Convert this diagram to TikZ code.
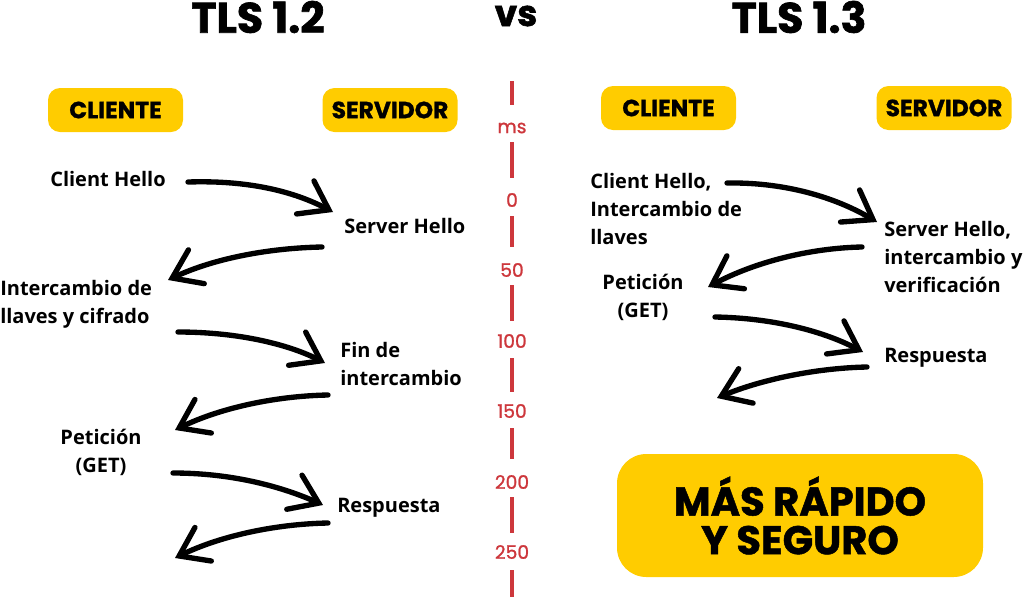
\documentclass[tikz,border=0pt]{standalone}
\usepackage{fontspec}
\setmainfont{Open Sans}
\newfontfamily\pop{Poppins}
\usetikzlibrary{arrows.meta}
\definecolor{ylw}{RGB}{255,204,0}
\definecolor{tred}{RGB}{205,55,60}
\tikzset{
  title/.style={font=\pop\bfseries\addfontfeature{FakeBold=1.5}\fontsize{32}{34}\selectfont, inner sep=0pt},
  hdr/.style={fill=ylw, rounded corners=9pt, minimum width=101.25pt, minimum height=33pt, inner sep=0pt, font=\pop\bfseries\addfontfeature{FakeBold=1.2}\fontsize{17.5}{19}\selectfont},
  msg/.style={font=\bfseries\fontsize{15}{21}\selectfont, inner sep=0pt, align=left},
  tick/.style={font=\pop\addfontfeature{FakeBold=1.2}\fontsize{14}{16}\selectfont, text=tred, inner sep=0pt},
  tline/.style={draw=tred, line width=3pt},
  flow/.style={line width=4pt, line cap=round, -{Straight Barb[length=20pt,width=28pt,line cap=round]}},
  big/.style={fill=ylw, rounded corners=22pt, minimum width=274.5pt, minimum height=92.25pt, inner sep=0pt, align=center, font=\pop\bfseries\addfontfeature{FakeBold=1.2}\fontsize{30}{29}\selectfont}
}
\begin{document}
\begin{tikzpicture}[x=0.75pt,y=-0.75pt]
\useasboundingbox (0,0) rectangle (1024,597);
% titles
\node[title] (t12) at (258,17) {TLS 1.2};
\node[title, font=\pop\bfseries\addfontfeature{FakeBold=1.5}\fontsize{27}{30}\selectfont] (vs) at (516,16) {vs};
\node[title] (t13) at (799,17) {TLS 1.3};
% headers
\node[hdr] (cli1) at (115.5,110) {CLIENTE};
\node[hdr] (srv1) at (390,110) {SERVIDOR};
\node[hdr] (cli2) at (668.5,108) {CLIENTE};
\node[hdr] (srv2) at (944,108) {SERVIDOR};
% timeline
\draw[tline] (512,81) -- (512,105);
\draw[tline] (512,142) -- (512,178);
\draw[tline] (512,216) -- (512,247);
\draw[tline] (512,285) -- (512,321);
\draw[tline] (512,358) -- (512,392);
\draw[tline] (512,428) -- (512,459);
\draw[tline] (512,497) -- (512,533);
\draw[tline] (512,570) -- (512,597);
\node[tick] (ms) at (512,128) {ms};
\node[tick] (m0) at (512,200) {0};
\node[tick] (m50) at (512,270) {50};
\node[tick] (m100) at (512,341) {100};
\node[tick] (m150) at (512,411) {150};
\node[tick] (m200) at (512,482) {200};
\node[tick] (m250) at (512,552) {250};
% TLS 1.2 messages
\node[msg, anchor=west] (ch1) at (50,179) {Client Hello};
\node[msg, anchor=west] (sh1) at (344,226) {Server Hello};
\node[msg, anchor=west] (ic1) at (0,304) {Intercambio de\\llaves y cifrado};
\node[msg, anchor=west] (fi1) at (340,364) {Fin de\\intercambio};
\node[msg, align=center] (pe1) at (101,452) {Petición\\(GET)};
\node[msg, anchor=west] (re1) at (337,508) {Respuesta};
% TLS 1.3 messages
\node[msg, anchor=west] (ch2) at (590,209) {Client Hello,\\Intercambio de\\llaves};
\node[msg, anchor=west] (sh2) at (884,257) {Server Hello,\\intercambio y\\verificación};
\node[msg, align=center] (pe2) at (643,297) {Petición\\(GET)};
\node[msg, anchor=west] (re2) at (884,358) {Respuesta};
% arrow end points
\coordinate (l1s) at (188,182); \coordinate (l1e) at (333,212);
\coordinate (l2s) at (322,247); \coordinate (l2e) at (168,280);
\coordinate (l3s) at (178,332); \coordinate (l3e) at (325,363);
\coordinate (l4s) at (328,395); \coordinate (l4e) at (175,430);
\coordinate (l5s) at (173,473); \coordinate (l5e) at (323,505);
\coordinate (l6s) at (328,523); \coordinate (l6e) at (175,558);
\coordinate (r1s) at (727,183); \coordinate (r1e) at (877,222);
\coordinate (r2s) at (862,247); \coordinate (r2e) at (708,287);
\coordinate (r3s) at (715,317); \coordinate (r3e) at (863,352);
\coordinate (r4s) at (867,367); \coordinate (r4e) at (717,398);
% arrows TLS 1.2
\draw[flow] (l1s) .. controls (250,180) and (295,192) .. (l1e);
\draw[flow] (l2s) .. controls (270,248) and (215,258) .. (l2e);
\draw[flow] (l3s) .. controls (240,332) and (290,345) .. (l3e);
\draw[flow] (l4s) .. controls (275,396) and (220,408) .. (l4e);
\draw[flow] (l5s) .. controls (235,473) and (285,488) .. (l5e);
\draw[flow] (l6s) .. controls (275,524) and (220,536) .. (l6e);
% arrows TLS 1.3
\draw[flow] (r1s) .. controls (790,182) and (840,200) .. (r1e);
\draw[flow] (r2s) .. controls (810,248) and (755,262) .. (r2e);
\draw[flow] (r3s) .. controls (775,318) and (825,332) .. (r3e);
\draw[flow] (r4s) .. controls (815,368) and (760,380) .. (r4e);
% result box
\node[big] (res) at (800,515.5) {MÁS RÁPIDO\\Y SEGURO};
\end{tikzpicture}
\end{document}
